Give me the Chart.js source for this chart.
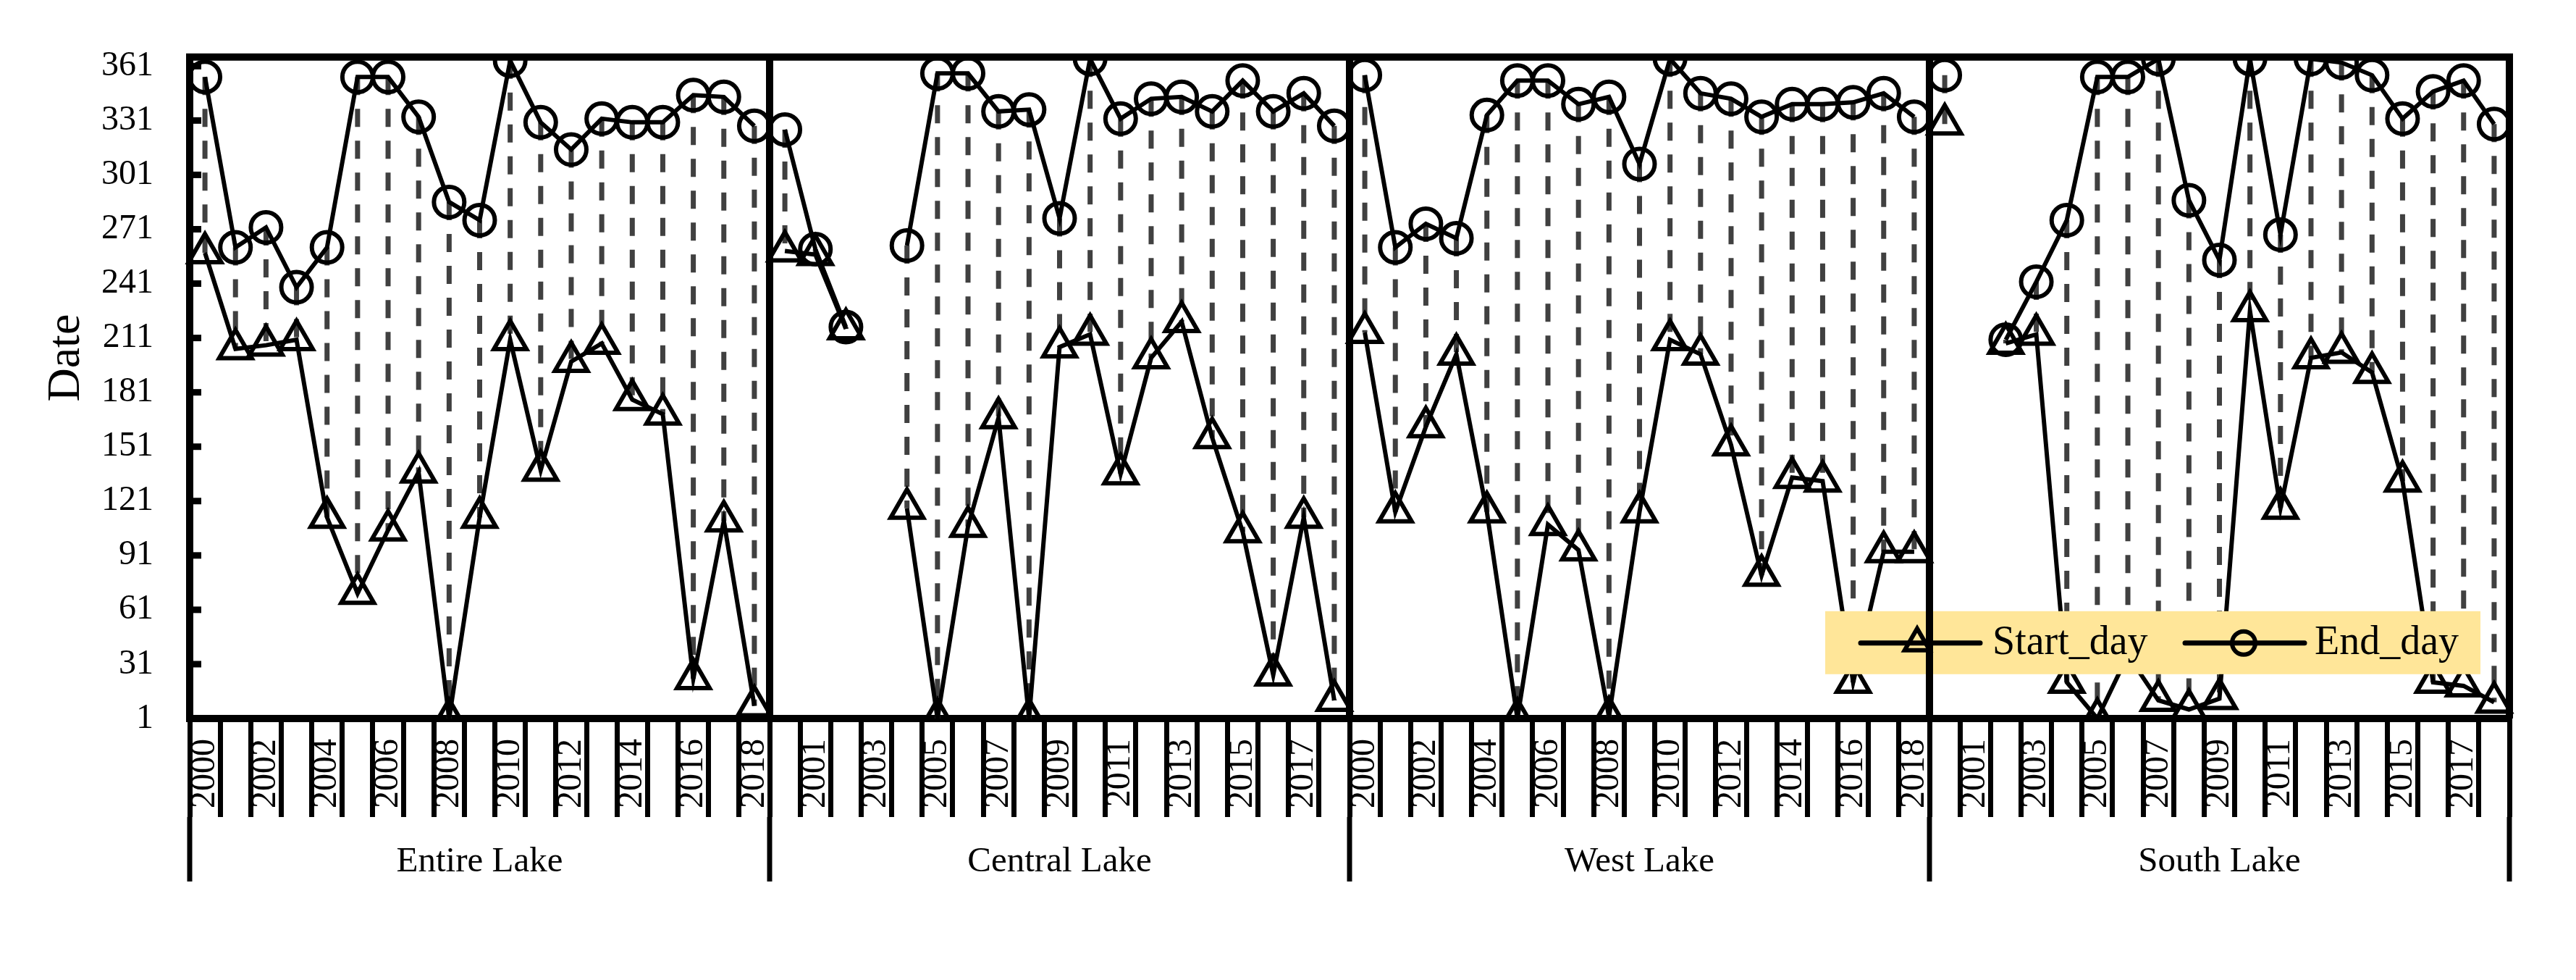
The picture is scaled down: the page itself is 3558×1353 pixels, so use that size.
<!DOCTYPE html>
<html>
<head>
<meta charset="utf-8">
<script src="https://cdn.jsdelivr.net/npm/chart.js@4/dist/chart.umd.min.js"></script>
<style>
html,body{margin:0;padding:0;background:#ffffff;}
#wrap{width:3558px;height:1353px;position:relative;}
</style>
</head>
<body>
<div id="wrap"><canvas id="c" width="3558" height="1353"></canvas></div>
<script>
// ---- data ----
const regions = ['Entire Lake', 'Central Lake', 'West Lake', 'South Lake'];
const years = ['2000','2001','2002','2003','2004','2005','2006','2007','2008','2009',
               '2010','2011','2012','2013','2014','2015','2016','2017','2018'];

const startEntire  = [258,205,207,210,112, 70,105,137,  1,112,210,138,198,208,177,169, 23,110,  8];
const endEntire    = [355,261,272,239,261,355,355,333,286,276,364,330,315,332,330,330,345,344,328];

const startCentral = [259,257,216,null,117,  1,107,167,  1,206,213,136,200,220,156,104, 25,112, 11];
const endCentral   = [326,260,217,null,262,357,357,336,337,277,365,332,343,344,336,353,336,346,328];

const startWest    = [214,115,162,202,115,  1,108, 94,  2,115,210,202,152, 80,134,132, 21, 93, 93];
const endWest      = [356,261,274,266,334,353,353,340,344,307,365,346,343,333,340,340,341,346,333];

const startSouth   = [329,null,208,213, 21,  1, 36, 11,  6, 12,226,117,200,203,192,132, 21, 19, 10];
const endSouth     = [356,null,210,242,276,355,355,365,287,254,365,268,365,363,356,332,347,353,329];

const yTickValues = [1,31,61,91,121,151,181,211,241,271,301,331,361];
const yTitle = 'Date';

// ---- derived tables for the library ----
const categories = regions.flatMap(() => years);
const startAll = [].concat(startEntire, startCentral, startWest, startSouth);
const endAll   = [].concat(endEntire, endCentral, endWest, endSouth);
const perGroup = years.length;

const SERIF = '"Liberation Serif", "Times New Roman", serif';

// dashed high-low lines between end and start of each category + frame bits
const dropLines = {
  id: 'dropLines',
  beforeDatasetsDraw(chart) {
    const ctx = chart.ctx;
    const ms = chart.getDatasetMeta(0), me = chart.getDatasetMeta(1);
    ctx.save();
    ctx.strokeStyle = '#404040';
    ctx.lineWidth = 7;
    ctx.lineCap = 'butt';
    ctx.setLineDash([25, 19]);
    ms.data.forEach((p, i) => {
      const q = me.data[i];
      if (!p || !q || p.skip || q.skip) return;
      ctx.beginPath();
      ctx.moveTo(q.x, q.y);
      ctx.lineTo(p.x, p.y);
      ctx.stroke();
    });
    ctx.setLineDash([]);
    // top frame line
    const a = chart.chartArea;
    ctx.strokeStyle = '#000';
    ctx.lineWidth = 10;
    ctx.beginPath();
    ctx.moveTo(a.left - 5, a.top);
    ctx.lineTo(a.right + 5, a.top);
    ctx.stroke();
    // inner y tick marks
    const ys = chart.scales.y;
    ctx.lineWidth = 9;
    ys.ticks.forEach(t => {
      const y = ys.getPixelForValue(t.value);
      ctx.beginPath();
      ctx.moveTo(a.left, y);
      ctx.lineTo(a.left + 16, y);
      ctx.stroke();
    });
    ctx.restore();
  }
};

// y-axis title, placed like the original (slightly above the plot centre)
const yTitlePlugin = {
  id: 'yTitlePlugin',
  afterDraw(chart) {
    const ctx = chart.ctx, ys = chart.scales.y;
    const y = ys.getPixelForValue(200);
    ctx.save();
    ctx.translate(92, y);
    ctx.rotate(-Math.PI / 2);
    ctx.fillStyle = '#000';
    ctx.font = '64px ' + SERIF;
    ctx.textAlign = 'center';
    ctx.textBaseline = 'middle';
    ctx.fillText(yTitle, 0, 0);
    ctx.restore();
  }
};

const legendBox = {
  id: 'legendBox',
  afterDatasetsDraw(chart) {
    const ctx = chart.ctx, a = chart.chartArea;
    const x0 = a.right - 945, y0 = a.top + 765, w = 905, h = 87;
    const yc = y0 + 44;
    ctx.save();
    ctx.fillStyle = '#FFE699';
    ctx.fillRect(x0, y0, w, h);
    const items = [
      {ds: 0, l1: x0 + 49,  l2: x0 + 214, mx: x0 + 127, tx: x0 + 231, r: 20},
      {ds: 1, l1: x0 + 497, l2: x0 + 662, mx: x0 + 578, tx: x0 + 676, r: 16}
    ];
    items.forEach(it => {
      const d = chart.data.datasets[it.ds];
      ctx.strokeStyle = '#000';
      ctx.lineWidth = 7;
      ctx.lineCap = 'round';
      ctx.beginPath();
      ctx.moveTo(it.l1, yc);
      ctx.lineTo(it.l2, yc);
      ctx.stroke();
      ctx.lineCap = 'butt';
      ctx.lineWidth = 6;
      ctx.fillStyle = 'rgba(0,0,0,0)';
      const opts = {pointStyle: d.pointStyle, radius: it.r, rotation: 0, borderWidth: 6};
      if (Chart.helpers && Chart.helpers.drawPoint) {
        Chart.helpers.drawPoint(ctx, opts, it.mx, yc);
      }
      ctx.fillStyle = '#000';
      ctx.font = '56px ' + SERIF;
      ctx.textAlign = 'left';
      ctx.textBaseline = 'middle';
      ctx.fillText(d.label, it.tx, yc);
    });
    ctx.restore();
  }
};

const breakAtGroups = {
  borderColor: ctx => ((ctx.p0DataIndex + 1) % perGroup === 0) ? 'rgba(0,0,0,0)' : '#000'
};

new Chart(document.getElementById('c'), {
  type: 'line',
  data: {
    labels: categories,
    datasets: [
      {
        label: 'Start_day',
        data: startAll,
        borderColor: '#000',
        borderWidth: 6,
        pointStyle: 'triangle',
        pointRadius: 26,
        pointBorderWidth: 6,
        pointBorderColor: '#000',
        pointBackgroundColor: 'rgba(0,0,0,0)',
        tension: 0,
        spanGaps: false,
        segment: breakAtGroups
      },
      {
        label: 'End_day',
        data: endAll,
        borderColor: '#000',
        borderWidth: 6,
        pointStyle: 'circle',
        pointRadius: 21,
        pointBorderWidth: 6,
        pointBorderColor: '#000',
        pointBackgroundColor: 'rgba(0,0,0,0)',
        tension: 0,
        spanGaps: false,
        segment: breakAtGroups
      }
    ]
  },
  options: {
    responsive: false,
    animation: false,
    devicePixelRatio: 1,
    layout: {padding: {left: 0, right: 92, top: 72, bottom: 136}},
    plugins: {
      legend: {display: false},
      tooltip: {enabled: false}
    },
    scales: {
      x: {
        type: 'category',
        position: 'bottom',
        offset: true,
        grid: {
          offset: true, drawOnChartArea: false, drawTicks: true,
          tickLength: 136, tickWidth: 7, tickColor: '#000', color: '#000', lineWidth: 7
        },
        border: {display: true, color: '#000', width: 10},
        ticks: {
          autoSkip: false, minRotation: 90, maxRotation: 90, padding: -108,
          color: '#000', font: {family: SERIF, size: 48},
          callback: function (val, idx) { return idx % 2 === 0 ? categories[idx] : ''; }
        },
        afterFit: s => { s.height = 136; }
      },
      x2: {
        type: 'category',
        labels: regions,
        position: 'bottom',
        offset: true,
        grid: {
          offset: true, drawOnChartArea: true, drawTicks: true, z: 1,
          tickLength: 89, tickWidth: 7, tickColor: '#000', color: '#000', lineWidth: 10
        },
        border: {display: false},
        ticks: {
          autoSkip: false, maxRotation: 0, minRotation: 0, padding: -56,
          color: '#000', font: {family: SERIF, size: 49}
        },
        afterFit: s => { s.height = 89; }
      },
      y: {
        type: 'linear',
        position: 'left',
        min: 1,
        max: 366,
        afterBuildTicks: s => { s.ticks = yTickValues.map(v => ({value: v})); },
        grid: {display: true, drawOnChartArea: false, drawTicks: false},
        border: {display: true, color: '#000', width: 10},
        ticks: {
          padding: 50, color: '#000', font: {family: SERIF, size: 48},
          callback: v => String(v)
        },
        title: {display: false, text: yTitle},
        afterFit: s => { s.width = 262; }
      }
    }
  },
  plugins: [dropLines, legendBox, yTitlePlugin]
});
</script>
</body>
</html>
